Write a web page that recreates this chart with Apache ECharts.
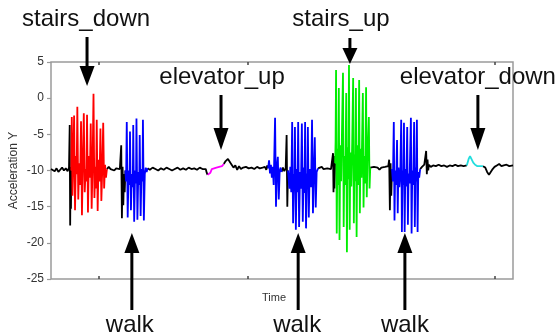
<!DOCTYPE html>
<html>
<head>
<meta charset="utf-8">
<script src="https://cdn.jsdelivr.net/npm/echarts@6/dist/echarts.min.js"></script>
<style>
  html, body { margin: 0; padding: 0; background: #fff; }
  #chart { width: 558px; height: 335px; }
</style>
</head>
<body>
<div id="chart"></div>
<script>
// samples: [time, acceleration Y]
const still1 = [[0,-9.8],[0.4,-9.6],[0.8,-10.1],[1.2,-9.7],[1.6,-10.2],[2.0,-9.9],[2.4,-9.6],[2.8,-10],[3.2,-9.7],[3.6,-10.1],[3.9,-9.6],[4.05,-3.7],[4.15,-17.6],[4.25,-9.5],[4.32,-15.3],[4.4,-10]];
const stairsDown = [[4.4,-10],[4.5,-2.6],[4.65,-13.5],[4.8,-9],[5.0,-2.4],[5.2,-15.5],[5.4,-8],[5.55,-10.5],[5.7,-1.2],[5.9,-14],[6.1,-9],[6.3,-12],[6.5,-3.2],[6.7,-16.2],[6.9,-8.5],[7.1,-2.1],[7.3,-13],[7.5,-9.8],[7.65,-11.5],[7.8,-2.3],[8.0,-15.8],[8.2,-8],[8.4,-11],[8.6,-3.5],[8.8,-15.3],[9.0,-9],[9.2,0.6],[9.4,-13.8],[9.6,-9.5],[9.75,-12.5],[9.9,-3.0],[10.1,-15.6],[10.3,-8.5],[10.5,-11.5],[10.7,-4.2],[10.9,-14.2],[11.1,-9.8],[11.3,-3.4],[11.5,-12.5],[11.7,-9.2],[11.9,-11],[12.1,-9.8]];
const still2 = [[12.1,-9.8],[12.5,-9.5],[12.9,-9.8],[13.3,-9.6],[13.7,-10],[14.1,-9.7],[14.5,-9.5],[14.9,-9.8],[15.1,-9.6],[15.2,-6.5],[15.35,-16.6],[15.5,-9.5],[15.65,-14.8],[15.8,-10.5],[15.95,-13],[16.1,-10]];
const walk1 = [[16.1,-10],[16.25,-11.5],[16.4,-3.3],[16.6,-16.5],[16.8,-10],[17.0,-12],[17.1,-4.6],[17.3,-15.5],[17.5,-10.5],[17.7,-12.3],[17.8,-3.7],[18.0,-17.1],[18.2,-10],[18.4,-11.8],[18.5,-2.8],[18.7,-16.8],[18.9,-10.2],[19.1,-12],[19.2,-5.1],[19.4,-16.3],[19.6,-9.8],[19.8,-11.5],[19.9,-3.0],[20.1,-16.9],[20.3,-10.5],[20.5,-9.6],[20.7,-10.2],[20.9,-9.7]];
const still3 = [[20.9,-9.7],[21.4,-9.9],[22,-9.6],[22.6,-9.8],[23.2,-10],[23.8,-9.7],[24.4,-9.9],[25,-9.6],[25.6,-9.8],[26.2,-10],[26.8,-9.8],[27.4,-9.6],[28,-9.9],[28.6,-9.7],[29.2,-9.9],[29.8,-9.6],[30.4,-9.8],[31,-9.7],[31.6,-9.9],[32.2,-9.6],[32.8,-9.8],[33.2,-9.6],[33.5,-9.8],[33.7,-10.3],[33.9,-10.6]];
const elevatorUp = [[33.9,-10.6],[34.2,-10.7],[34.5,-10.3],[34.8,-9.8],[35.2,-9.6],[35.8,-9.6],[36.4,-9.5],[37.0,-9.4],[37.4,-9.1]];
const still4 = [[37.4,-9.1],[37.8,-8.7],[38.3,-8.4],[38.7,-8.5],[39.1,-9.2],[39.5,-9.6],[39.9,-9.3],[40.3,-9.9],[40.7,-9.4],[41.1,-9.8],[41.6,-9.6],[42.2,-9.5],[42.8,-9.7],[43.4,-9.6],[44,-9.8],[44.6,-9.5],[45.2,-9.7],[45.8,-9.6],[46.3,-9.5],[46.6,-9.9],[46.8,-9.3],[47.0,-9.7]];
const walk2a = [[47.0,-9.7],[47.2,-8.6],[47.4,-10.4],[47.6,-9.2],[47.8,-11],[48.0,-9.5],[48.2,-12],[48.5,-2.7],[48.7,-15],[48.9,-9.5],[49.1,-8.1],[49.3,-14],[49.5,-10],[49.7,-9.6],[49.9,-10.2]];
const still5 = [[49.9,-10.2],[50.2,-9.6],[50.5,-10.1],[50.8,-9.7],[51.0,-5.1],[51.15,-15],[51.3,-10]];
const walk2b = [[51.3,-10],[51.6,-12.5],[51.8,-9.5],[52.0,-13],[52.2,-3.3],[52.4,-17.3],[52.6,-10.5],[52.7,-12.8],[52.8,-4.0],[53.0,-18.2],[53.2,-9.8],[53.35,-13],[53.5,-3.3],[53.7,-17.8],[53.9,-10.2],[54.1,-12.5],[54.3,-3.5],[54.5,-17.1],[54.7,-9.6],[54.85,-13.1],[55.0,-3.3],[55.2,-18],[55.4,-10.4],[55.5,-12],[55.6,-4.0],[55.8,-16.5],[56.0,-9.8],[56.3,-12.3],[56.5,-3.0],[56.7,-15.9],[56.9,-10],[57.1,-5.4],[57.3,-15.1],[57.5,-10.2],[57.8,-9.7]];
const still6 = [[57.8,-9.7],[58.2,-9.9],[58.6,-9.5],[59,-9.8],[59.4,-9.6],[59.8,-9.7],[60.2,-9.5],[60.6,-9.8],[60.9,-9.6],[61.05,-7.6],[61.15,-13],[61.25,-8],[61.35,-12.5],[61.5,-9]];
const stairsUp = [[61.5,-9],[61.6,-6],[61.7,3.9],[61.85,-18.7],[62.0,-7],[62.15,-12],[62.3,1.4],[62.45,-19.6],[62.6,-6.5],[62.8,-11.5],[62.95,-5.8],[63.2,3.5],[63.35,-17.8],[63.5,-8],[63.7,-12],[63.9,0.7],[64.05,-21.3],[64.2,-6.8],[64.35,-11.2],[64.5,4.6],[64.65,-18.2],[64.8,-7.5],[65.0,-12.2],[65.2,-6],[65.4,2.8],[65.55,-17.3],[65.7,-7.8],[65.85,-11.5],[66.0,1.4],[66.15,-19.2],[66.3,-6.5],[66.5,-12],[66.7,2.5],[66.85,-15.9],[67.0,-7],[67.2,-11],[67.5,0.7],[67.65,-15.1],[67.8,-8],[68.0,-11.8],[68.2,1.5],[68.35,-13.7],[68.5,-8.5],[68.8,-2.6],[68.95,-12.5],[69.1,-9.6]];
const still7 = [[69.1,-9.6],[69.5,-9.8],[69.9,-9.5],[70.3,-9.7],[70.7,-9.6],[71.1,-9.9],[71.5,-9.6],[71.9,-9.8],[72.3,-9.5],[72.7,-9.7],[73.0,-9.4],[73.2,-8.5],[73.35,-15.5],[73.5,-9],[73.65,-13.5],[73.8,-9.8]];
const walk3 = [[73.8,-9.8],[74.0,-11.5],[74.2,-3.3],[74.35,-16.9],[74.5,-10],[74.7,-12],[74.9,-5.8],[75.05,-15.9],[75.2,-9.6],[75.4,-12.3],[75.6,-10.5],[75.8,-3.0],[75.95,-18.5],[76.1,-10],[76.25,-12],[76.4,-3.4],[76.55,-18.5],[76.7,-9.8],[76.9,-12.2],[77.1,-4.0],[77.25,-17.5],[77.4,-10.4],[77.6,-11.8],[77.9,-2.7],[78.05,-18.7],[78.2,-10],[78.4,-12],[78.6,-3.3],[78.75,-17.8],[78.9,-9.6],[79.05,-11.5],[79.2,-3.0],[79.35,-18.5],[79.5,-10.2],[79.7,-11],[79.9,-9.8]];
const still8 = [[79.9,-9.8],[80.3,-9.5],[80.8,-9.2],[81.2,-7.3],[81.35,-10.5],[81.5,-8.5],[81.65,-10],[81.8,-9.2],[82.2,-9.5],[82.7,-9.3],[83.3,-9.4],[83.9,-9.2],[84.5,-9.4],[85.1,-9.3],[85.7,-9.5],[86.3,-9.3],[86.9,-9.4],[87.5,-9.2],[88.1,-9.4],[88.7,-9.3],[89.3,-9.4],[90.0,-9.3]];
const elevatorDown = [[90.0,-9.3],[90.4,-8.4],[90.7,-8.0],[91.0,-8.2],[91.4,-8.9],[91.8,-9.2],[92.3,-9.4],[92.9,-9.4],[93.5,-9.4]];
const still9 = [[93.5,-9.4],[94.0,-9.6],[94.4,-10.2],[94.8,-10.6],[95.2,-10.4],[95.6,-9.8],[96.0,-9.5],[96.5,-9.3],[97.0,-9.1],[97.5,-9.4],[98.0,-9.3],[98.6,-9.2],[99.2,-9.4],[100,-9.3]];

const timeTicks = [10.4, 42.6, 96.1];

const stillParts = [still1, still2, still3, still4, still5, still6, still7, still8, still9];
const activityParts = [
  { data: stairsDown, color: "#ff0000" },
  { data: walk1, color: "#0000ff" },
  { data: elevatorUp, color: "#ff00ff" },
  { data: walk2a, color: "#0000ff" },
  { data: walk2b, color: "#0000ff" },
  { data: stairsUp, color: "#00ee00" },
  { data: walk3, color: "#0000ff" },
  { data: elevatorDown, color: "#22dddd" },
];

// arrow labels: t = time the arrow points at, y values are page pixels
const annotations = [
  { text: "stairs_down", t: 7.8, dx: -1, textY: 19, from: 37, tip: 86, head: 20 },
  { text: "stairs_up", t: 64.7, dx: -9, textY: 19, from: 38, tip: 64, head: 16 },
  { text: "elevator_up", t: 36.8, dx: 1, textY: 77, from: 95, tip: 150, head: 22 },
  { text: "elevator_down", t: 92.4, dx: 0, textY: 77, from: 95, tip: 150, head: 22 },
  { text: "walk", t: 17.5, dx: -2, textY: 325, from: 310, tip: 233, head: 20 },
  { text: "walk", t: 53.5, dx: -1, textY: 325, from: 310, tip: 233, head: 20 },
  { text: "walk", t: 76.6, dx: 0, textY: 325, from: 310, tip: 233, head: 20 },
];

const lineSeries = (data, color) => ({
  type: "line",
  data: data,
  showSymbol: false,
  silent: true,
  lineStyle: { color: color, width: 1.8 },
});

const chart = echarts.init(document.getElementById("chart"));
const font = '"Liberation Sans", Arial, sans-serif';

const xTick = { inside: true, length: 3, customValues: timeTicks, lineStyle: { color: "#444", width: 1.5 } };

const option = {
  animation: false,
  grid: {
    left: 51, right: 45, top: 62, bottom: 56,
    outerBoundsMode: "none",
    show: true, borderColor: "#9a9a9a", borderWidth: 1.5,
  },
  xAxis: [
    {
      type: "value", min: 0, max: 100,
      name: "Time", nameLocation: "middle", nameGap: 13,
      nameTextStyle: { fontFamily: font, fontSize: 11, color: "#333", padding: [0, 16, 0, 0] },
      axisLine: { show: false, onZero: false },
      axisLabel: { show: false },
      splitLine: { show: false },
      axisTick: xTick,
    },
    {
      type: "value", min: 0, max: 100, position: "top",
      axisLine: { show: false, onZero: false },
      axisLabel: { show: false },
      splitLine: { show: false },
      axisTick: xTick,
    },
  ],
  yAxis: {
    type: "value", min: -25, max: 5, interval: 5,
    name: "Acceleration Y", nameLocation: "middle", nameGap: 31,
    nameMoveOverlap: false,
    nameTextStyle: { fontFamily: font, fontSize: 12, color: "#333" },
    axisLine: { show: false, onZero: false },
    axisTick: { length: 4, lineStyle: { color: "#9a9a9a", width: 1.2 } },
    axisLabel: { fontFamily: font, fontSize: 12, color: "#333", margin: 7 },
    splitLine: { show: false },
  },
  series: [
    ...stillParts.map((d) => lineSeries(d, "#000")),
    ...activityParts.map((p) => lineSeries(p.data, p.color)),
  ],
};
chart.setOption(option);

const graphic = [];
annotations.forEach((a) => {
  const x = chart.convertToPixel({ xAxisIndex: 0 }, a.t);
  const dir = a.tip > a.from ? 1 : -1;
  const base = a.tip - dir * a.head;
  graphic.push({
    type: "line",
    shape: { x1: x, y1: a.from, x2: x, y2: base },
    style: { stroke: "#000", lineWidth: 3 },
  });
  graphic.push({
    type: "polygon",
    shape: { points: [[x - 7.5, base], [x + 7.5, base], [x, a.tip]] },
    style: { fill: "#000" },
  });
  graphic.push({
    type: "text",
    x: x + a.dx,
    y: a.textY,
    style: { text: a.text, font: "24px " + font, fill: "#111", align: "center", verticalAlign: "middle" },
  });
});
chart.setOption({ graphic: graphic });
</script>
</body>
</html>
